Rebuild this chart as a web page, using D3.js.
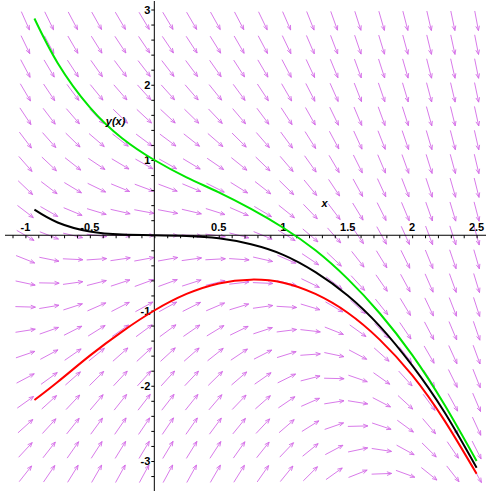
<!DOCTYPE html>
<html>
<head>
<meta charset="utf-8">
<script src="https://cdn.jsdelivr.net/npm/d3@7"></script>
<style>
  body { margin: 0; background: #fff; }
  svg { display: block; }
  text { font-family: "Liberation Sans", Arial, sans-serif; font-weight: bold; fill: #000; }
</style>
</head>
<body>
<script>
// solution curves
const xCurve = [-0.93, -0.75, -0.5, -0.25, 0, 0.25, 0.5, 0.75, 1, 1.25, 1.5, 1.75, 2, 2.25, 2.5];
const greenY = [2.88, 2.29, 1.70, 1.29, 1.00, 0.77, 0.57, 0.35, 0.10, -0.20, -0.58, -1.04, -1.59, -2.25, -3.00];
const blackY = [0.34, 0.17, 0.05, 0.01, 0, -0.01, -0.04, -0.12, -0.26, -0.49, -0.80, -1.21, -1.73, -2.35, -3.09];
const redY = [-2.19, -1.95, -1.60, -1.28, -1.00, -0.78, -0.64, -0.59, -0.63, -0.78, -1.03, -1.39, -1.86, -2.46, -3.17];

// direction field grid (20 x 20) and the equation y' = -x^2 - y
const xGrid = [-1, -0.8158, -0.6316, -0.4474, -0.2632, -0.0789, 0.1053, 0.2895, 0.4737, 0.6579,
  0.8421, 1.0263, 1.2105, 1.3947, 1.5789, 1.7632, 1.9474, 2.1316, 2.3158, 2.5];
const yGrid = [-3.17, -2.853, -2.537, -2.220, -1.903, -1.586, -1.269, -0.952, -0.635, -0.319,
  -0.002, 0.315, 0.632, 0.948, 1.265, 1.582, 1.899, 2.216, 2.533, 2.85];
const slope = (x, y) => -x * x - y;

// tick labels
const xTickVals = [-1, -0.5, 0.5, 1, 1.5, 2, 2.5];
const xTickText = ["-1", "-0.5", "0.5", "1", "1.5", "2", "2.5"];
const yTickVals = [3, 2, 1, -1, -2, -3];
const yTickText = ["3", "2", "1", "-1", "-2", "-3"];

const width = 486, height = 491;

const svg = d3.select("body")
  .append("svg")
  .attr("width", width)
  .attr("height", height);

const x = d3.scaleLinear().domain([-1, 2.5]).range([25.4, 476.6]);
const y = d3.scaleLinear().domain([-3, 3]).range([461, 9.5]);

// arrows
const arrowColor = "#d46be6";
const half = 10, head = 5, headAng = 0.38;
const field = svg.append("g")
  .attr("stroke", arrowColor)
  .attr("stroke-width", 0.9)
  .attr("fill", "none");

const cells = [];
xGrid.forEach(function (gx) {
  yGrid.forEach(function (gy) { cells.push({ x: gx, y: gy }); });
});

field.selectAll("path")
  .data(cells)
  .enter()
  .append("path")
  .attr("d", function (d) {
    const cx = x(d.x), cy = y(d.y);
    const h = 0.1;
    let dx = x(d.x + h) - cx;
    let dy = y(d.y + slope(d.x, d.y) * h) - cy;
    const n = Math.hypot(dx, dy);
    dx /= n; dy /= n;
    const tx = cx + dx * half, ty = cy + dy * half;
    const sx = cx - dx * half, sy = cy - dy * half;
    const a = Math.atan2(dy, dx);
    const h1x = tx - head * Math.cos(a - headAng), h1y = ty - head * Math.sin(a - headAng);
    const h2x = tx - head * Math.cos(a + headAng), h2y = ty - head * Math.sin(a + headAng);
    return `M${sx},${sy}L${tx},${ty}M${h1x},${h1y}L${tx},${ty}L${h2x},${h2y}`;
  });

// axes
svg.append("line")
  .attr("x1", 5).attr("x2", width)
  .attr("y1", y(0)).attr("y2", y(0))
  .attr("stroke", "#000").attr("stroke-width", 1);
svg.append("line")
  .attr("x1", x(0)).attr("x2", x(0))
  .attr("y1", 1).attr("y2", height)
  .attr("stroke", "#000").attr("stroke-width", 1);

const xMinor = d3.range(-11, 26).map(function (i) { return i / 10; });
const yMinor = d3.range(-17, 16).map(function (i) { return i / 5; });

svg.append("g")
  .attr("transform", `translate(0, ${y(0)})`)
  .call(d3.axisBottom(x).tickValues(xMinor).tickSize(3).tickFormat(""))
  .call(g => g.select(".domain").remove());

svg.append("g")
  .attr("transform", `translate(${x(0)}, 0)`)
  .call(d3.axisLeft(y).tickValues(yMinor).tickSize(3).tickFormat(""))
  .call(g => g.select(".domain").remove());

svg.selectAll(".xlab")
  .data(xTickVals)
  .enter()
  .append("text")
  .attr("class", "xlab")
  .attr("x", function (d) { return x(d); })
  .attr("y", y(0) - 4)
  .attr("text-anchor", "middle")
  .style("font-size", "11px")
  .text(function (d, i) { return xTickText[i]; });

svg.selectAll(".ylab")
  .data(yTickVals)
  .enter()
  .append("text")
  .attr("class", "ylab")
  .attr("x", x(0) - 4)
  .attr("y", function (d) { return y(d) + 4; })
  .attr("text-anchor", "end")
  .style("font-size", "11px")
  .text(function (d, i) { return yTickText[i]; });

// solution curves
const curves = [
  { ys: greenY, color: "#00e600" },
  { ys: blackY, color: "#000000" },
  { ys: redY, color: "#ff0000" }
];
const line = d3.line()
  .x(function (d) { return x(d[0]); })
  .y(function (d) { return y(d[1]); })
  .curve(d3.curveNatural);

curves.forEach(function (c) {
  svg.append("path")
    .datum(xCurve.map(function (v, i) { return [v, c.ys[i]]; }))
    .attr("fill", "none")
    .attr("stroke", c.color)
    .attr("stroke-width", 2)
    .attr("d", line);
});

// axis names
svg.append("text")
  .attr("x", x(1.32)).attr("y", y(0.37))
  .attr("text-anchor", "middle")
  .style("font-size", "11px")
  .style("font-style", "italic")
  .text("x");
svg.append("text")
  .attr("x", x(-0.3)).attr("y", y(1.46))
  .attr("text-anchor", "middle")
  .style("font-size", "11px")
  .style("font-style", "italic")
  .text("y(x)");
</script>
</body>
</html>
